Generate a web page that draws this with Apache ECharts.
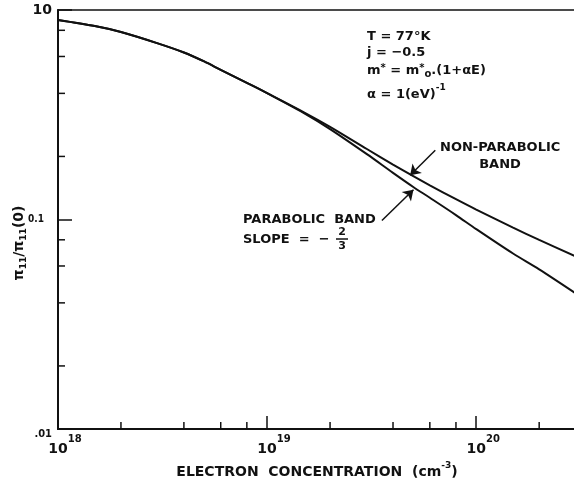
<!DOCTYPE html>
<html>
<head>
<meta charset="utf-8">
<script src="https://cdn.jsdelivr.net/npm/echarts@6/dist/echarts.min.js"></script>
<style>html,body{margin:0;background:#fff}#chart{width:574px;height:480px}</style>
</head>
<body>
<div id="chart"></div>
<script>
// electron concentration (cm^-3) and pi11/pi11(0)
var concentration = [1e18, 1.5e18, 2e18, 3e18, 4e18, 5e18, 6e18, 8e18, 1e19, 1.5e19, 2e19, 3e19, 4e19, 5e19, 6e19, 8e19, 1e20, 1.5e20, 2e20, 3e20];
var nonParabolic = [0.896, 0.838, 0.785, 0.693, 0.627, 0.568, 0.518, 0.449, 0.401, 0.325, 0.277, 0.217, 0.183, 0.161, 0.1456, 0.125, 0.1115, 0.0915, 0.0799, 0.0665];
var parabolic = [0.896, 0.838, 0.785, 0.693, 0.627, 0.568, 0.518, 0.449, 0.401, 0.322, 0.270, 0.205, 0.167, 0.143, 0.127, 0.105, 0.090, 0.0688, 0.0578, 0.0443];

var xMinorTicks = [2e18, 4e18, 6e18, 8e18, 2e19, 4e19, 6e19, 8e19, 2e20];
var yMinorTicks = [0.8, 0.6, 0.4, 0.2, 0.08, 0.06, 0.04, 0.02];
var yTickValues = [0.01, 0.1, 1];
var yTickLabels = ['{lo|.01}', '{mid|0.1}', '{big|10}'];

// arrows [tail, head]
var nonParabolicArrow = [[6.37e19, 0.214], [4.83e19, 0.1625]];
var parabolicArrow = [[3.54e19, 0.0989], [5.01e19, 0.1387]];

var ink = '#111';
var font = 'DejaVu Sans';
var bold = 'bold 13px ' + font;

function pairs(xs, ys) {
    return xs.map(function (x, i) { return [x, ys[i]]; });
}

function tickX(params, api) {
    var p = api.coord([api.value(0), api.value(1)]);
    return {type: 'line', shape: {x1: p[0], y1: p[1], x2: p[0], y2: p[1] - 7}, style: {stroke: ink, lineWidth: 1.5}};
}
function tickY(params, api) {
    var p = api.coord([api.value(0), api.value(1)]);
    return {type: 'line', shape: {x1: p[0], y1: p[1], x2: p[0] + 7, y2: p[1]}, style: {stroke: ink, lineWidth: 1.5}};
}

function arrowLine(a) {
    return [{coord: a[0]}, {coord: a[1]}];
}

var myChart = echarts.init(document.getElementById('chart'));
var option = {
    backgroundColor: '#fff',
    animation: false,
    grid: {
        left: 58, top: 10, width: 518, height: 419,
        outerBoundsMode: 'none', containLabel: false,
        show: true, borderColor: ink, borderWidth: 1.5
    },
    xAxis: {
        type: 'log', logBase: 10, min: 1e18, max: 3e20,
        axisLine: {lineStyle: {color: ink, width: 2}},
        axisTick: {inside: true, length: 13, lineStyle: {color: ink, width: 1.5}},
        splitLine: {show: false},
        axisLabel: {
            margin: 5,
            formatter: function (v) {
                var e = Math.log10(v);
                if (Math.abs(e - Math.round(e)) > 1e-6) return '';
                e = Math.round(e);
                return '{h|' + e + '}{b|10}{s|' + e + '}';
            },
            rich: {
                h: {fontFamily: font, fontWeight: 'bold', fontSize: 10, color: 'transparent', lineHeight: 10, verticalAlign: 'top'},
                b: {fontFamily: font, fontWeight: 'bold', fontSize: 14, color: ink, lineHeight: 22, verticalAlign: 'bottom'},
                s: {fontFamily: font, fontWeight: 'bold', fontSize: 10, color: ink, lineHeight: 10, verticalAlign: 'top'}
            }
        },
        name: '{a|ELECTRON  CONCENTRATION  (cm}{s|-3}{a|)}',
        nameLocation: 'middle',
        nameGap: 28,
        nameTextStyle: {
            rich: {
                a: {fontFamily: font, fontWeight: 'bold', fontSize: 14, color: ink, lineHeight: 18, verticalAlign: 'bottom'},
                s: {fontFamily: font, fontWeight: 'bold', fontSize: 9, color: ink, lineHeight: 9, verticalAlign: 'top'}
            }
        }
    },
    yAxis: {
        type: 'log', logBase: 10, min: 0.01, max: 1,
        axisLine: {lineStyle: {color: ink, width: 2}},
        axisTick: {inside: true, length: 14, lineStyle: {color: ink, width: 1.5}},
        splitLine: {show: false},
        axisLabel: {
            margin: 6,
            formatter: function (v) {
                var e = Math.round(Math.log10(v));
                for (var i = 0; i < yTickValues.length; i++) {
                    if (Math.round(Math.log10(yTickValues[i])) === e) return yTickLabels[i];
                }
                return '';
            },
            rich: {
                big: {fontFamily: font, fontWeight: 'bold', fontSize: 14, color: ink},
                mid: {fontFamily: 'DejaVu Sans Condensed', fontWeight: 'bold', fontSize: 10, color: ink, padding: [0, 8, 0, 0]},
                lo: {fontFamily: 'DejaVu Sans Condensed', fontWeight: 'bold', fontSize: 11, color: ink, padding: [10, 0, 0, 0]}
            }
        }
    },
    series: [
        {
            name: 'NON-PARABOLIC BAND', type: 'line', smooth: 0.3, showSymbol: false,
            data: pairs(concentration, nonParabolic),
            lineStyle: {color: ink, width: 2},
            markLine: {
                silent: true, symbol: ['none', 'arrow'], symbolSize: 10,
                label: {show: false},
                lineStyle: {color: ink, width: 1.5, type: 'solid'},
                data: [arrowLine(nonParabolicArrow), arrowLine(parabolicArrow)]
            }
        },
        {
            name: 'PARABOLIC BAND', type: 'line', smooth: 0.3, showSymbol: false,
            data: pairs(concentration, parabolic),
            lineStyle: {color: ink, width: 2}
        },
        {
            type: 'custom', renderItem: tickX, silent: true, clip: false,
            data: xMinorTicks.map(function (v) { return [v, 0.01]; })
        },
        {
            type: 'custom', renderItem: tickY, silent: true, clip: false,
            data: yMinorTicks.map(function (v) { return [1e18, v]; })
        }
    ],
    graphic: [
        {
            type: 'text', x: 20, y: 243, rotation: Math.PI / 2,
            style: {
                text: '{p|π}{sub|11}{p|/π}{sub|11}{p|(0)}',
                align: 'center', verticalAlign: 'middle',
                rich: {
                    p: {fontFamily: font, fontWeight: 'bold', fontSize: 14, fill: ink, lineHeight: 16, verticalAlign: 'top'},
                    sub: {fontFamily: font, fontWeight: 'bold', fontSize: 9, fill: ink, lineHeight: 9, verticalAlign: 'bottom'}
                }
            }
        },
        {type: 'text', x: 367, y: 37, style: {text: 'T = 77°K', font: bold, fill: ink, verticalAlign: 'middle'}},
        {type: 'text', x: 367, y: 53, style: {text: 'j = −0.5', font: bold, fill: ink, verticalAlign: 'middle'}},
        {
            type: 'text', x: 367, y: 71,
            style: {
                text: '{t|m}{s|*}{t| = m}{s|*}{u|o}{t|.(1+αE)}', verticalAlign: 'middle',
                rich: {
                    t: {fontFamily: font, fontWeight: 'bold', fontSize: 13, fill: ink, lineHeight: 16, verticalAlign: 'middle'},
                    s: {fontFamily: font, fontWeight: 'bold', fontSize: 10, fill: ink, lineHeight: 8, verticalAlign: 'top'},
                    u: {fontFamily: font, fontWeight: 'bold', fontSize: 10, fill: ink, lineHeight: 8, verticalAlign: 'bottom'}
                }
            }
        },
        {
            type: 'text', x: 367, y: 92,
            style: {
                text: '{t|α = 1(eV)}{s|-1}', verticalAlign: 'middle',
                rich: {
                    t: {fontFamily: font, fontWeight: 'bold', fontSize: 13, fill: ink, lineHeight: 18, verticalAlign: 'bottom'},
                    s: {fontFamily: font, fontWeight: 'bold', fontSize: 9, fill: ink, lineHeight: 9, verticalAlign: 'top'}
                }
            }
        },
        {type: 'text', x: 440, y: 148, style: {text: 'NON-PARABOLIC', font: bold, fill: ink, verticalAlign: 'middle'}},
        {type: 'text', x: 500, y: 165, style: {text: 'BAND', font: bold, fill: ink, align: 'center', verticalAlign: 'middle'}},
        {type: 'text', x: 243, y: 220, style: {text: 'PARABOLIC  BAND', font: bold, fill: ink, verticalAlign: 'middle'}},
        {type: 'text', x: 243, y: 240, style: {text: 'SLOPE  =  −', font: bold, fill: ink, verticalAlign: 'middle'}},
        {type: 'text', x: 342, y: 232, style: {text: '2', font: 'bold 11px ' + font, fill: ink, align: 'center', verticalAlign: 'middle'}},
        {type: 'line', shape: {x1: 336, y1: 239, x2: 348, y2: 239}, style: {stroke: ink, lineWidth: 1.5}},
        {type: 'text', x: 342, y: 246, style: {text: '3', font: 'bold 11px ' + font, fill: ink, align: 'center', verticalAlign: 'middle'}}
    ]
};
myChart.setOption(option);
</script>
</body>
</html>
